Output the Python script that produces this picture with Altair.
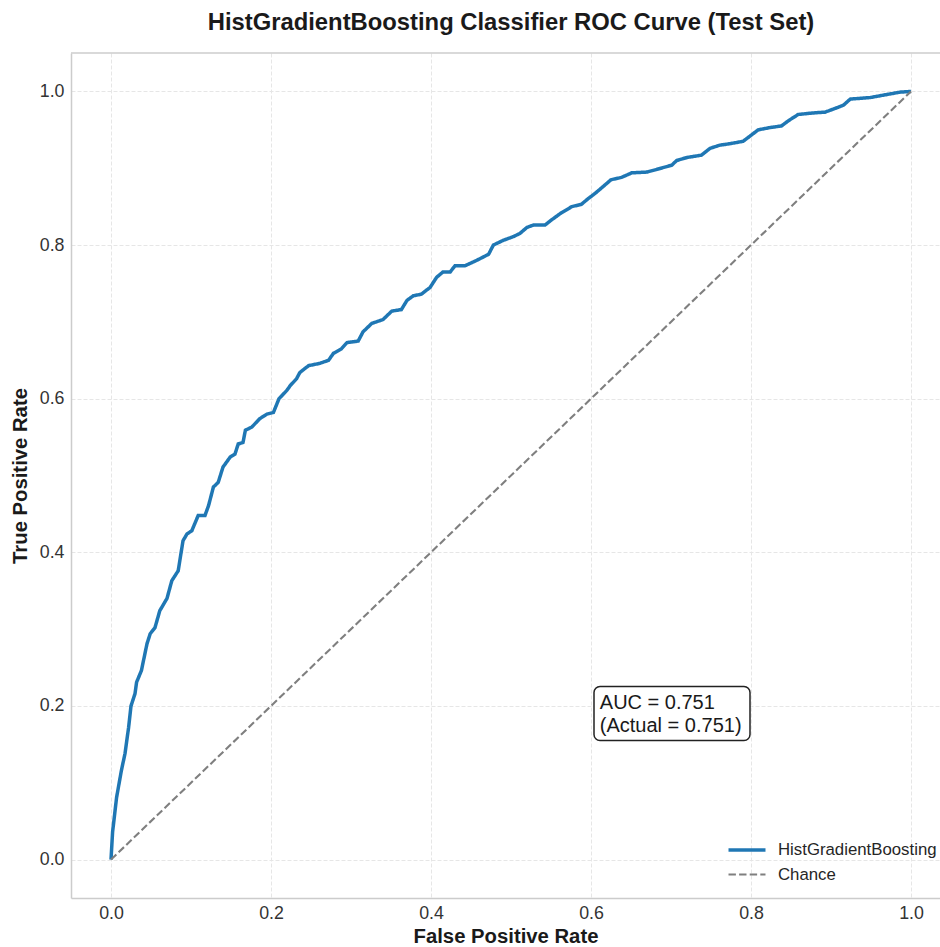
import altair as alt
import pandas as pd

# ROC curve points
fpr = [0.0, 0.002, 0.007, 0.013, 0.0175, 0.022, 0.025, 0.030, 0.032, 0.038, 0.045, 0.049,
       0.055, 0.061, 0.070, 0.076, 0.084, 0.090, 0.095, 0.101, 0.109, 0.1175, 0.122, 0.128,
       0.134, 0.140, 0.149, 0.155, 0.159, 0.165, 0.168, 0.176, 0.186, 0.195, 0.203, 0.210,
       0.220, 0.224, 0.232, 0.236, 0.247, 0.261, 0.272, 0.278, 0.288, 0.295, 0.309, 0.315,
       0.326, 0.340, 0.351, 0.363, 0.370, 0.378, 0.388, 0.399, 0.407, 0.415, 0.424, 0.430,
       0.4425, 0.457, 0.472, 0.478, 0.490, 0.503, 0.511, 0.520, 0.528, 0.5425, 0.551, 0.563,
       0.576, 0.588, 0.596, 0.606, 0.615, 0.625, 0.638, 0.651, 0.670, 0.684, 0.701, 0.707,
       0.720, 0.738, 0.749, 0.761, 0.774, 0.790, 0.799, 0.809, 0.824, 0.838, 0.847, 0.859,
       0.878, 0.8925, 0.903, 0.9155, 0.924, 0.949, 0.970, 0.986, 1.0]
tpr = [0.0, 0.036, 0.081, 0.116, 0.138, 0.172, 0.200, 0.216, 0.231, 0.246, 0.281, 0.294,
       0.302, 0.324, 0.340, 0.363, 0.376, 0.415, 0.424, 0.428, 0.448, 0.448, 0.461, 0.485,
       0.491, 0.511, 0.524, 0.528, 0.541, 0.543, 0.559, 0.563, 0.574, 0.580, 0.582, 0.600,
       0.611, 0.617, 0.626, 0.634, 0.643, 0.646, 0.650, 0.659, 0.665, 0.673, 0.675, 0.687,
       0.698, 0.703, 0.714, 0.716, 0.728, 0.734, 0.736, 0.745, 0.758, 0.765, 0.765, 0.773,
       0.773, 0.780, 0.788, 0.800, 0.806, 0.811, 0.815, 0.823, 0.826, 0.826, 0.833, 0.842,
       0.850, 0.853, 0.860, 0.868, 0.876, 0.885, 0.888, 0.894, 0.895, 0.899, 0.904, 0.910,
       0.914, 0.917, 0.926, 0.930, 0.932, 0.935, 0.942, 0.950, 0.953, 0.955, 0.962, 0.970,
       0.972, 0.973, 0.977, 0.982, 0.990, 0.992, 0.996, 0.999, 1.0]

chance_x = [0.0, 1.0]
chance_y = [0.0, 1.0]

series_names = ["HistGradientBoosting", "Chance"]
series_colors = ["#1f77b4", "#7f7f7f"]
series_dash = [[1, 0], [7.4, 3.2]]
series_width = [3.5, 2.1]

tick_values = [0.0, 0.2, 0.4, 0.6, 0.8, 1.0]

auc_label = "AUC = 0.751\n(Actual = 0.751)"
auc_text_pos = [0.611, 0.2174]
auc_box = [0.60375, 0.79875, 0.155, 0.2253]  # x, x2, y, y2

lines = pd.concat([
    pd.DataFrame({"fpr": fpr, "tpr": tpr, "series": series_names[0]}),
    pd.DataFrame({"fpr": chance_x, "tpr": chance_y, "series": series_names[1]}),
], ignore_index=True)

annot = pd.DataFrame({
    "x": [auc_text_pos[0]], "y": [auc_text_pos[1]], "label": [auc_label],
    "bx": [auc_box[0]], "bx2": [auc_box[1]], "by": [auc_box[2]], "by2": [auc_box[3]],
})

W, H = 869, 845
x_dom = [-0.05, -0.05 + W / 800.0]
y_dom = [-0.05, 1.05]

xscale = alt.Scale(domain=x_dom, nice=False, zero=False)
yscale = alt.Scale(domain=y_dom, nice=False, zero=False)

label_font = "Liberation Sans"

xaxis = alt.Axis(values=tick_values, format=".1f", title="False Positive Rate",
                 titleY=38, titleBaseline="middle")
yaxis = alt.Axis(values=tick_values, format=".1f", title="True Positive Rate",
                 titleX=-51, titleY=H / 2, titleAngle=-90, titleBaseline="middle",
                 titleAlign="center")

legend = alt.Legend(title=None, orient="none", legendX=665, legendY=786,
                    symbolType="M-2,0H2", symbolSize=342, symbolFillColor="transparent",
                    labelFontSize=16.8,
                    labelFont=label_font, labelColor="#262626", labelOffset=20,
                    rowPadding=5, padding=0)

base = alt.Chart(lines)

curves = base.mark_line().encode(
    x=alt.X("fpr:Q", scale=xscale, axis=xaxis),
    y=alt.Y("tpr:Q", scale=yscale, axis=yaxis),
    color=alt.Color("series:N", scale=alt.Scale(domain=series_names, range=series_colors), legend=legend),
    strokeDash=alt.StrokeDash("series:N", scale=alt.Scale(domain=series_names, range=series_dash), legend=legend),
    strokeWidth=alt.StrokeWidth("series:N", scale=alt.Scale(domain=series_names, range=series_width), legend=legend),
    order=alt.Order("fpr:Q"),
)

box = alt.Chart(annot).mark_rect(fill="white", stroke="#222222", strokeWidth=1.5,
                                 cornerRadius=6).encode(
    x=alt.X("bx:Q", scale=xscale), x2="bx2:Q",
    y=alt.Y("by:Q", scale=yscale), y2="by2:Q",
)

text = alt.Chart(annot).mark_text(align="left", baseline="top", fontSize=20,
                                  lineHeight=23, lineBreak="\n", font=label_font,
                                  color="#1a1a1a").encode(
    x=alt.X("x:Q", scale=xscale), y=alt.Y("y:Q", scale=yscale), text="label:N",
)

top_border = alt.Chart(annot).mark_rule(color="#cccccc", strokeWidth=1.5).encode(
    y=alt.value(0)
)

chart = alt.layer(curves, box, text, top_border).properties(
    width=W, height=H,
    title=alt.TitleParams("HistGradientBoosting Classifier ROC Curve (Test Set)",
                          fontSize=23.8, font=label_font, fontWeight="bold",
                          color="#1a1a1a", anchor="middle", dx=5.5, dy=25, offset=23,
                          baseline="alphabetic", frame="group"),
    autosize=alt.AutoSizeParams(type="none"),
    padding={"left": 71, "top": 53, "right": 0, "bottom": 49},
).configure_view(stroke=None).configure_axis(
    grid=True, gridColor="#e6e6e6", gridDash=[4, 2], gridWidth=1,
    domain=True, domainColor="#cccccc", domainWidth=1.5,
    ticks=False, tickSize=0, labelPadding=6,
    labelFont=label_font, labelFontSize=17.8, labelColor="#333333",
    titleFont=label_font, titleFontSize=20.3, titleFontWeight="bold", titleColor="#1a1a1a",
).configure_axisY(labelPadding=7)

chart.save("out.html", embed_options={"renderer": "svg", "actions": False})
